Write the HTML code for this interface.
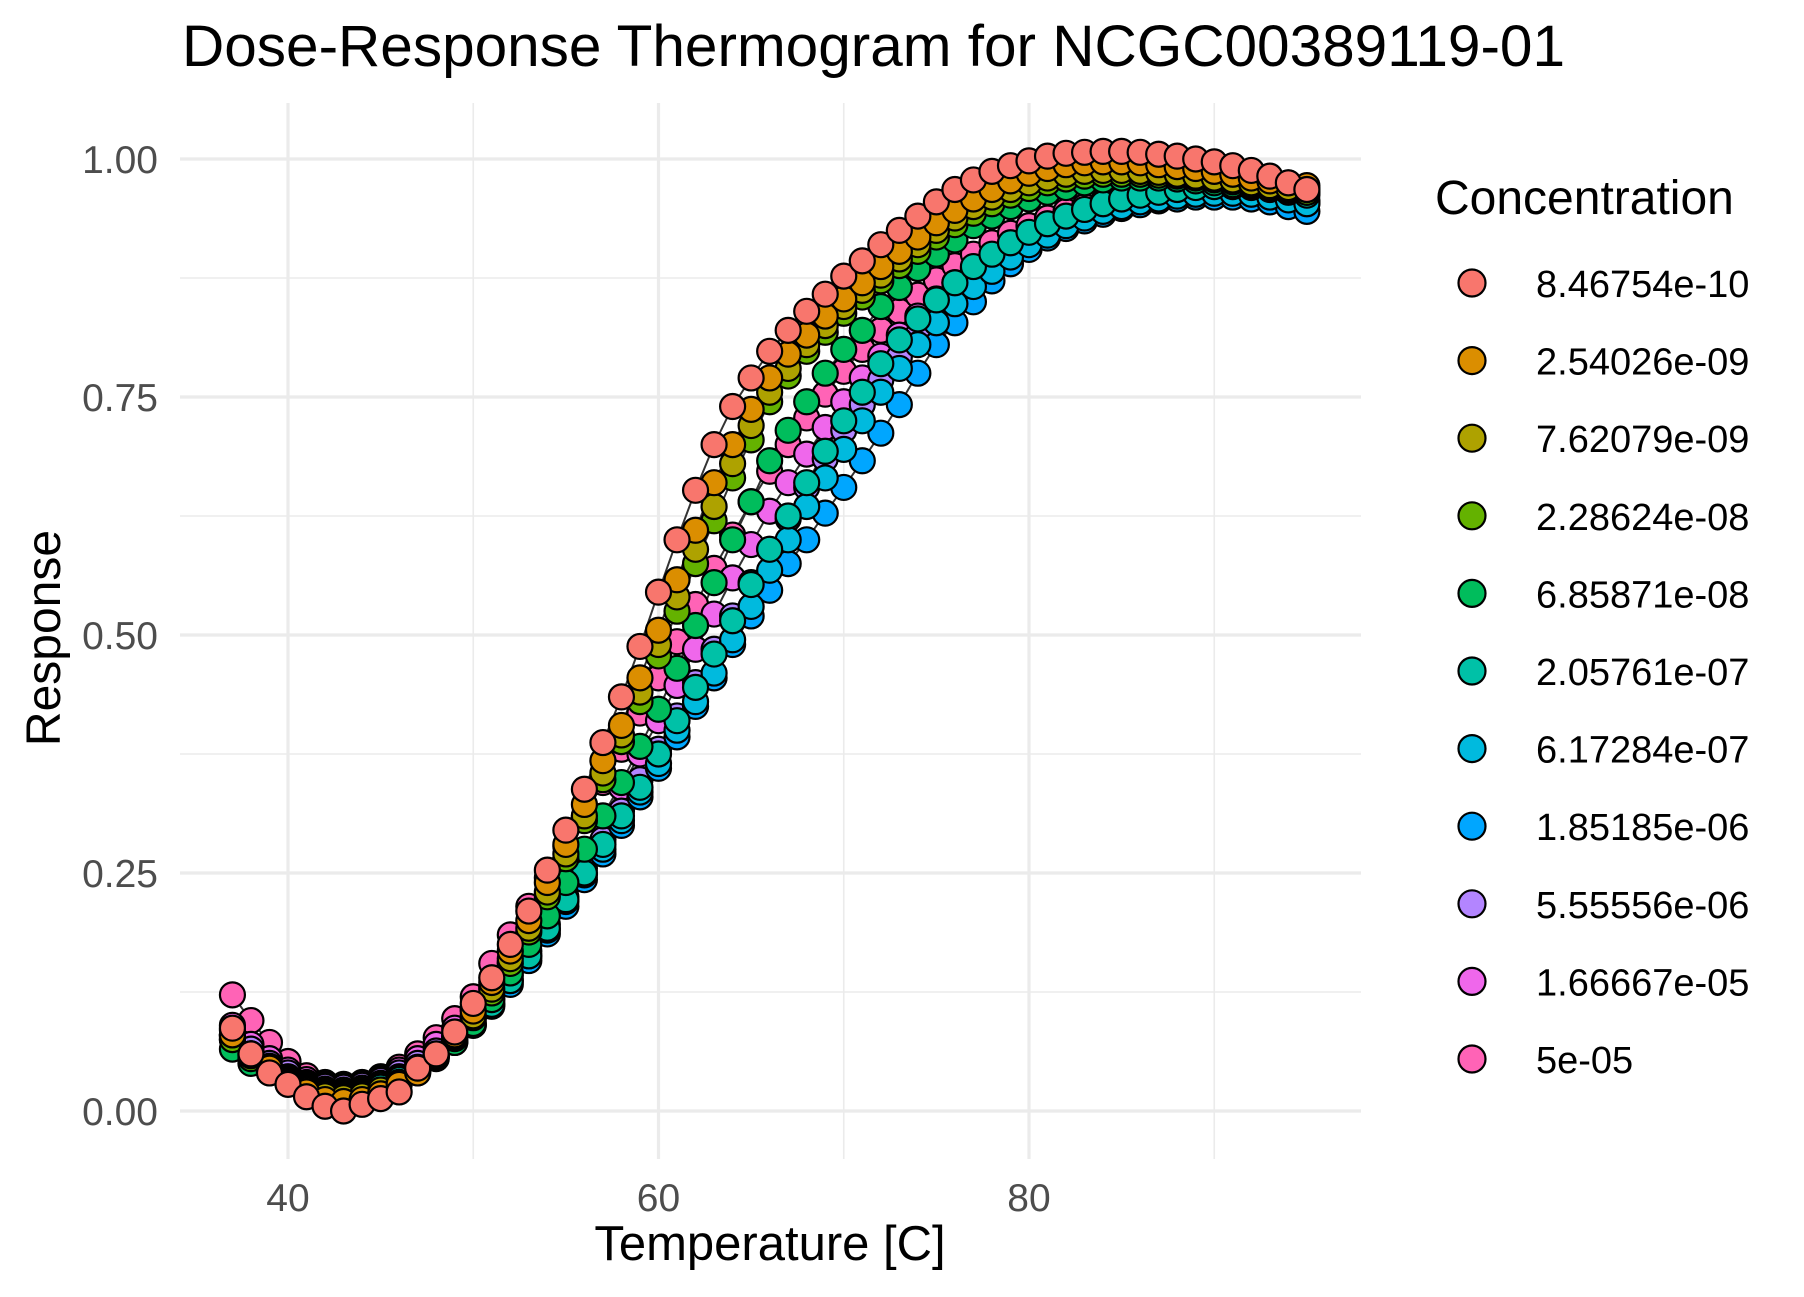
<!DOCTYPE html>
<html><head><meta charset="utf-8"><style>
html,body{margin:0;padding:0;background:#fff;}
svg{display:block;font-family:"Liberation Sans",Arial,sans-serif;}
</style></head><body>
<svg id="chart" width="1804" height="1297" viewBox="0 0 1804 1297" xmlns="http://www.w3.org/2000/svg">
<rect width="1804" height="1297" fill="#fff"/>
<text x="182" y="66" font-size="58.5" fill="#000">Dose-Response Thermogram for NCGC00389119-01</text>
<g id="grid"></g>
<g id="lines"></g>
<g id="points"></g>
<g id="axes"></g>
<text x="770" y="1260" font-size="49" text-anchor="middle" fill="#000">Temperature [C]</text>
<text transform="translate(60,638) rotate(-90)" font-size="48" text-anchor="middle" fill="#000">Response</text>
<text x="1452" y="214" font-size="48" fill="#000" transform="translate(-17,0)">Concentration</text>
<g id="legend" transform="translate(-17,0)"></g>
</svg>
<script>
const temps = [];
for (let t = 37; t <= 95; t++) temps.push(t);
const concLabels = ["8.46754e-10","2.54026e-09","7.62079e-09","2.28624e-08","6.85871e-08","2.05761e-07","6.17284e-07","1.85185e-06","5.55556e-06","1.66667e-05","5e-05"];
const colors = ["#F8766D","#DB8E00","#AEA200","#64B200","#00BD5C","#00C1A7","#00BADE","#00A6FF","#B385FF","#EF67EB","#FF63B6"];
const xTicks = [40,60,80];
const xMinor = [50,70,90];
const yTicks = [0,0.25,0.5,0.75,1.0];
const yTickLabels = ["0.00","0.25","0.50","0.75","1.00"];
const yMinor = [0.125,0.375,0.625,0.875];
const s0 = [0.087,0.06,0.04,0.028,0.015,0.005,0.0,0.007,0.013,0.02,
0.045,0.06,0.083,0.113,0.14,0.175,0.21,0.253,0.295,0.338,
0.387,0.435,0.488,0.545,0.6,0.652,0.7,0.74,0.77,0.798,
0.82,0.84,0.858,0.877,0.893,0.91,0.925,0.94,0.955,0.968,
0.978,0.987,0.993,0.998,1.003,1.006,1.007,1.008,1.008,1.007,
1.005,1.003,1.0,0.997,0.993,0.988,0.982,0.975,0.968];
const s1 = [0.08,0.06,0.045,0.03,0.02,0.012,0.01,0.012,0.018,0.028,
0.04,0.058,0.08,0.105,0.135,0.168,0.2,0.24,0.28,0.322,
0.368,0.405,0.455,0.505,0.558,0.61,0.66,0.70,0.737,0.77,
0.795,0.815,0.835,0.853,0.87,0.887,0.903,0.918,0.933,0.946,
0.958,0.968,0.977,0.985,0.99,0.994,0.996,0.997,0.997,0.996,
0.994,0.992,0.99,0.987,0.984,0.98,0.977,0.975,0.972];
const s2 = [0.08,0.058,0.045,0.032,0.022,0.016,0.014,0.016,0.022,0.03,
0.042,0.058,0.078,0.1,0.128,0.16,0.192,0.23,0.27,0.31,
0.355,0.395,0.44,0.49,0.54,0.59,0.635,0.68,0.72,0.755,
0.78,0.805,0.825,0.845,0.862,0.878,0.895,0.91,0.925,0.938,
0.95,0.96,0.968,0.975,0.98,0.984,0.987,0.988,0.988,0.987,
0.986,0.984,0.982,0.98,0.978,0.975,0.972,0.97,0.968];
const s3 = [0.075,0.055,0.042,0.03,0.022,0.016,0.015,0.017,0.022,0.03,
0.042,0.057,0.076,0.098,0.124,0.155,0.188,0.225,0.265,0.305,
0.348,0.388,0.43,0.478,0.525,0.575,0.62,0.665,0.705,0.745,
0.772,0.798,0.818,0.838,0.855,0.872,0.888,0.903,0.918,0.931,
0.943,0.953,0.962,0.969,0.975,0.979,0.982,0.984,0.984,0.984,
0.983,0.982,0.98,0.978,0.976,0.973,0.97,0.968,0.965];
const s4 = [0.065,0.05,0.04,0.03,0.022,0.017,0.016,0.018,0.022,0.03,
0.04,0.055,0.072,0.092,0.117,0.145,0.175,0.205,0.24,0.275,
0.31,0.345,0.383,0.422,0.465,0.51,0.555,0.6,0.64,0.683,
0.715,0.745,0.775,0.80,0.82,0.845,0.865,0.885,0.9,0.915,
0.93,0.94,0.95,0.958,0.965,0.97,0.975,0.978,0.98,0.98,
0.98,0.979,0.977,0.975,0.973,0.971,0.969,0.967,0.965];
const s5 = [0.075,0.055,0.042,0.032,0.024,0.019,0.018,0.02,0.025,0.033,
0.043,0.056,0.072,0.09,0.112,0.137,0.163,0.192,0.222,0.25,
0.28,0.31,0.34,0.375,0.41,0.445,0.48,0.515,0.553,0.59,
0.625,0.66,0.693,0.725,0.755,0.785,0.81,0.832,0.852,0.87,
0.887,0.9,0.912,0.923,0.932,0.94,0.947,0.953,0.958,0.962,
0.965,0.968,0.97,0.971,0.971,0.97,0.968,0.965,0.962];
const s6 = [0.078,0.057,0.044,0.034,0.026,0.021,0.02,0.022,0.027,0.035,
0.045,0.058,0.073,0.091,0.113,0.137,0.163,0.19,0.22,0.248,
0.275,0.305,0.335,0.365,0.4,0.43,0.46,0.495,0.53,0.568,
0.6,0.635,0.665,0.695,0.725,0.755,0.78,0.805,0.828,0.848,
0.866,0.882,0.897,0.91,0.92,0.93,0.938,0.945,0.95,0.955,
0.958,0.961,0.963,0.964,0.964,0.963,0.96,0.957,0.953];
const s7 = [0.08,0.06,0.047,0.036,0.028,0.023,0.022,0.024,0.029,0.036,
0.046,0.058,0.073,0.09,0.11,0.133,0.158,0.186,0.215,0.243,
0.27,0.3,0.33,0.36,0.393,0.425,0.455,0.49,0.52,0.547,
0.575,0.6,0.628,0.655,0.683,0.712,0.742,0.775,0.805,0.828,
0.85,0.872,0.89,0.905,0.917,0.927,0.935,0.942,0.948,0.952,
0.956,0.958,0.96,0.96,0.96,0.958,0.955,0.95,0.945];
const s8 = [0.085,0.065,0.05,0.04,0.03,0.026,0.025,0.027,0.032,0.04,
0.05,0.063,0.078,0.096,0.118,0.142,0.168,0.196,0.225,0.255,
0.285,0.315,0.348,0.38,0.415,0.45,0.485,0.52,0.555,0.59,
0.622,0.655,0.685,0.715,0.742,0.768,0.792,0.815,0.835,0.853,
0.87,0.885,0.898,0.91,0.92,0.93,0.938,0.945,0.95,0.955,
0.958,0.961,0.963,0.964,0.964,0.963,0.961,0.958,0.955];
const s9 = [0.09,0.07,0.055,0.043,0.033,0.028,0.026,0.028,0.034,0.043,
0.055,0.07,0.087,0.107,0.13,0.156,0.183,0.212,0.242,0.274,
0.306,0.34,0.375,0.41,0.447,0.485,0.522,0.56,0.595,0.63,
0.66,0.69,0.718,0.745,0.77,0.793,0.815,0.835,0.853,0.87,
0.885,0.898,0.91,0.92,0.93,0.938,0.945,0.95,0.955,0.958,
0.961,0.963,0.964,0.965,0.965,0.964,0.962,0.959,0.956];
const s10 = [0.122,0.095,0.072,0.052,0.037,0.03,0.028,0.03,0.036,0.046,
0.06,0.077,0.097,0.12,0.155,0.185,0.215,0.245,0.278,0.31,
0.345,0.38,0.418,0.455,0.493,0.532,0.57,0.605,0.64,0.672,
0.7,0.728,0.753,0.777,0.8,0.82,0.84,0.857,0.873,0.888,
0.9,0.912,0.922,0.93,0.938,0.945,0.95,0.955,0.958,0.961,
0.963,0.964,0.965,0.965,0.964,0.962,0.96,0.957,0.954];
const series = [s0,s1,s2,s3,s4,s5,s6,s7,s8,s9,s10];

const NS = "http://www.w3.org/2000/svg";
const PL = 180, PR = 1361, PT = 103, PB = 1159;
function xs(t){ return 288 + (t - 40) * (1029 - 288) / 40; }
function ys(v){ return 1111 - v * (1111 - 159); }
function mk(tag, attrs, parent){
  const e = document.createElementNS(NS, tag);
  for (const k in attrs) e.setAttribute(k, attrs[k]);
  parent.appendChild(e);
  return e;
}
const grid = document.getElementById('grid');
yMinor.forEach(v => {
  const l = mk('line', {x1:PL, x2:PR, y1:ys(v), y2:ys(v), stroke:'#ebebeb', 'stroke-width':1.6}, grid);
  
  
});
xMinor.forEach(t => {
  const l = mk('line', {x1:xs(t), x2:xs(t), y1:PT, y2:PB, stroke:'#ebebeb', 'stroke-width':1.6}, grid);
  
  
});
yTicks.forEach(v => {
  const l = mk('line', {x1:PL, x2:PR, y1:ys(v), y2:ys(v), stroke:'#ebebeb', 'stroke-width':3.2}, grid);
  
  
});
xTicks.forEach(t => {
  const l = mk('line', {x1:xs(t), x2:xs(t), y1:PT, y2:PB, stroke:'#ebebeb', 'stroke-width':3.2}, grid);
  
  
});
const axes = document.getElementById('axes');
yTicks.forEach((v, i) => {
  const tx = mk('text', {x:158, y:ys(v) + 14, 'font-size':39, 'text-anchor':'end', fill:'#4d4d4d'}, axes);
  tx.textContent = yTickLabels[i];
  
  
});
xTicks.forEach(t => {
  const tx = mk('text', {x:xs(t), y:1211, 'font-size':39, 'text-anchor':'middle', fill:'#4d4d4d'}, axes);
  tx.textContent = String(t);
  
  
});
const linesG = document.getElementById('lines');
const pointsG = document.getElementById('points');
for (let si = series.length - 1; si >= 0; si--) {
  const d = series[si].map((v, i) => (i ? 'L' : 'M') + xs(temps[i]).toFixed(1) + ' ' + ys(v).toFixed(1)).join(' ');
  const p = mk('path', {d:d, fill:'none', stroke:'#333', 'stroke-width':2}, linesG);
  
  
}
for (let si = series.length - 1; si >= 0; si--) {
  const g = mk('g', {}, pointsG);
  
  
  series[si].forEach((v, i) => {
    const c = mk('circle', {cx:xs(temps[i]), cy:ys(v), r:12.5, fill:colors[si], stroke:'#000', 'stroke-width':2.2}, g);
    
    
  });
}
const legend = document.getElementById('legend');
concLabels.forEach((lab, i) => {
  const y = 283 + i * 77.6;
  const g = mk('g', {}, legend);
  
  
  const c = mk('circle', {cx:1489, cy:y, r:13.5, fill:colors[i], stroke:'#000', 'stroke-width':2.2}, g);
  
  
  const t = mk('text', {x:1553, y:y + 14, 'font-size':38, fill:'#000'}, g);
  t.textContent = lab;
  
  
});
</script>
</body></html>
